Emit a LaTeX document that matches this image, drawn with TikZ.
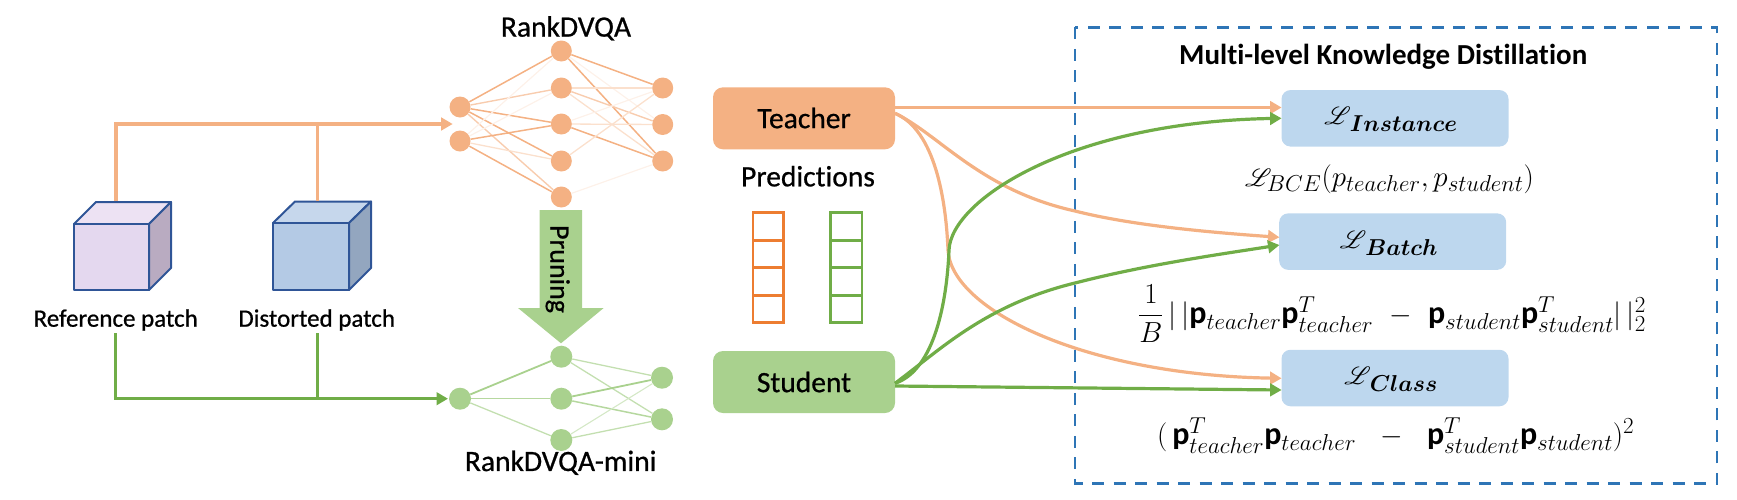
\documentclass[tikz,border=0pt]{standalone}
\usepackage{fix-cm}
\usepackage{amsmath}
\IfFileExists{mathrsfs.sty}{\usepackage{mathrsfs}}{\let\mathscr\mathcal}
\usepackage[no-math]{fontspec}
\setmainfont{Carlito}[Ligatures=NoCommon]
\newfontfamily\semi[FakeBold=0.7,Ligatures=NoCommon]{Carlito}
\DeclareMathSizes{29}{29}{23}{16}
\usetikzlibrary{arrows.meta,shapes.geometric,calc}
\definecolor{orL}{HTML}{F4B183}
\definecolor{orD}{HTML}{ED7D31}
\definecolor{grL}{HTML}{A9D18E}
\definecolor{grD}{HTML}{70AD47}
\definecolor{lossB}{HTML}{BDD7EE}
\definecolor{dashB}{HTML}{2E75B6}
\definecolor{cubeE}{HTML}{2F5597}
\newcommand{\fs}[1]{\fontsize{#1}{#1}\selectfont}
\newcommand{\pb}{\text{\fs{32}\bfseries p}}
\newcommand{\lossname}[1]{{\fs{33}$\mathscr{L}$}\kern-1pt\raisebox{-7pt}{\fs{23}$\boldsymbol{#1}$}}
\tikzset{
  onode/.style={circle,fill=orL,inner sep=0pt,minimum size=21pt},
  gnode/.style={circle,fill=grL,inner sep=0pt,minimum size=22pt},
  ostrong/.style={draw=orL,line width=1.5pt},
  omed/.style={draw=orL!65,line width=1.4pt},
  olight/.style={draw=orL!40,line width=1.3pt},
  ofaint/.style={draw=orL!18,line width=1.2pt},
  gstrong/.style={draw=grL,line width=1.8pt},
  gmed/.style={draw=grL!85,line width=1.5pt},
  glight/.style={draw=grL!70,line width=1.3pt},
  gfaint/.style={draw=grL!50,line width=1.1pt},
  oarrow/.style={draw=orL,line width=3.2pt,-{Triangle[length=11.5pt,width=12.5pt]}},
  garrow/.style={draw=grD,line width=3.2pt,-{Triangle[length=11.5pt,width=12.5pt]}},
  oline/.style={draw=orL,line width=3.2pt},
  gline/.style={draw=grD,line width=3.2pt},
  rolebox/.style={rounded corners=10pt,minimum width=182pt,minimum height=62pt,inner sep=0pt},
  rolelabel/.style={inner sep=0pt,font=\fs{29.5}\semi},
  lossbox/.style={rounded corners=9pt,fill=lossB,minimum width=227pt,minimum height=56.5pt,inner sep=0pt},
  label/.style={inner sep=0pt,font=\fs{25}\semi},
  cube/.style={draw=cubeE,line width=2pt,line join=round},
  pred/.style={line width=2.6pt},
}
\begin{document}
\begin{tikzpicture}[x=1pt,y=-1pt]
\useasboundingbox (0,0) rectangle (1737,499);
% dashed frame
\draw[dashB,line width=2.6pt,dash pattern=on 12pt off 9.5pt] (1075,27.3) rectangle (1717,483.3);
% orange net
\node[onode] (a) at (460,107) {};
\node[onode] (b) at (460,141) {};
\foreach \n/\y in {1/51,2/88,3/124,4/161,5/197} \node[onode] (m\n) at (561.3,\y) {};
\foreach \n/\y in {1/88,2/124.5,3/161} \node[onode] (r\n) at (662.7,\y) {};
\foreach \s/\t/\k in {a/m1/ostrong,a/m2/omed,a/m3/ostrong,a/m4/ostrong,a/m5/omed,
  b/m1/ofaint,b/m2/ofaint,b/m3/ostrong,b/m4/olight,b/m5/ostrong,
  m1/r1/ostrong,m1/r2/ofaint,m1/r3/ostrong,
  m2/r1/olight,m2/r2/omed,m2/r3/olight,
  m3/r1/ofaint,m3/r2/olight,m3/r3/ostrong,
  m4/r1/olight,m5/r3/ofaint}
  \draw[\k] (\s) -- (\t);
% green net
\node[gnode] (ga) at (460,398.7) {};
\foreach \n/\y in {1/356.7,2/398.7,3/440} \node[gnode] (gm\n) at (561.3,\y) {};
\foreach \n/\y in {1/377.7,2/419.3} \node[gnode] (gr\n) at (662,\y) {};
\foreach \s/\t/\k in {ga/gm1/gstrong,ga/gm2/gmed,ga/gm3/glight,
  gm1/gr1/glight,gm1/gr2/glight,gm2/gr1/gstrong,gm2/gr2/gmed,
  gm3/gr1/gfaint,gm3/gr2/glight}
  \draw[\k] (\s) -- (\t);
\node[rolelabel] (rankT) at (566,28.3) {RankDVQA};
\node[rolelabel] (rankM) at (560.7,462.7) {RankDVQA-mini};
% pruning arrow
\fill[grL] (539.7,210) -- (582,210) -- (582,308) -- (603.7,308) -- (561,343.3) -- (518,308) -- (539.7,308) -- cycle;
\node[inner sep=0pt,rotate=-90,font=\fs{28}\semi] (prune) at (557.7,269) {Pruning};
% cubes
\filldraw[fill={rgb,255:red,237;green,226;blue,243},cube] (74,224) -- (96,202) -- (171,202) -- (149,224) -- cycle;
\filldraw[fill={rgb,255:red,185;green,171;blue,193},cube] (149,224) -- (171,202) -- (171,268) -- (149,290) -- cycle;
\filldraw[fill={rgb,255:red,228;green,216;blue,239},cube] (74,224) rectangle (149,290);
\filldraw[fill={rgb,255:red,198;green,215;blue,236},cube] (273,223) -- (295,201.5) -- (371,201.5) -- (349,223) -- cycle;
\filldraw[fill={rgb,255:red,147;green,166;blue,191},cube] (349,223) -- (371,201.5) -- (371,268) -- (349,290) -- cycle;
\filldraw[fill={rgb,255:red,180;green,202;blue,229},cube] (273,223) rectangle (349,290);
\node[label] (refl) at (115.7,320) {Reference patch};
\node[label] (disl) at (316.7,320) {Distorted patch};
% input lines
\coordinate (refTop) at (116,201);
\coordinate (disTop) at (317.5,201);
\coordinate (disJoin) at (317.5,124);
\coordinate (netIn) at (452.7,124);
\coordinate (refBot) at (115.5,333);
\coordinate (disBot) at (317.5,333);
\coordinate (disJoinG) at (317.5,398.7);
\coordinate (gnetIn) at (448,398.7);
\draw[oline] (disTop) -- (disJoin);
\draw[oarrow] (refTop) |- (netIn);
\draw[gline] (disBot) -- (disJoinG);
\draw[garrow] (refBot) |- (gnetIn);
% predictions
\node[rolelabel] (predT) at (808,176.2) {Predictions};
\foreach \x/\w/\c in {753/30.6/orD,830.4/31.6/grD}{
  \foreach \y/\h in {212.3/240.3,240.3/267.7,267.7/295.3,295.3/322.7}
    \draw[\c,pred] (\x,\y) rectangle ({\x+\w},\h);
}
% role boxes
\node[rolebox,fill=orL] (teacher) at (804,118.3) {};
\node[rolebox,fill=grL] (student) at (804,382) {};
\node[rolelabel] (teacherT) at (804,118) {Teacher};
\node[rolelabel] (studentT) at (804,382) {Student};
% loss boxes
\node[lossbox] (inst) at (1395,118.3) {};
\node[lossbox] (batch) at (1392.7,241.6) {};
\node[lossbox] (class) at (1395,378) {};
\node[inner sep=0pt] (instT) at (1390.8,119) {\lossname{Instance}};
\node[inner sep=0pt] (batchT) at (1388.7,243) {\lossname{Batch}};
\node[inner sep=0pt] (classT) at (1390.8,379) {\lossname{Class}};
\node[inner sep=0pt,font=\fs{29}\bfseries,anchor=west] (title) at (1179,56.7) {Multi-level Knowledge Distillation};
% formulas
\node[inner sep=0pt,anchor=base west,font=\fs{29}] (f1) at (1245,186) {$\mathscr{L}_{BCE}(p_{teacher},p_{student})$};
\node[inner sep=0pt,anchor=base west,font=\fs{29}] (f2) at (1138,323) {$\dfrac{1}{B}\,|\,|\pb_{teacher}\pb_{teacher}^{T}\;\;{-}\;\;\pb_{student}\pb_{student}^{T}|\,|_2^2$};
\node[inner sep=0pt,anchor=base west,font=\fs{29}] (f3) at (1157,444) {$(\,\pb_{teacher}^{T}\pb_{teacher}\;\;\;{-}\;\;\;\pb_{student}^{T}\pb_{student})^2$};
% arrows
\coordinate (tOut) at (895,113.3);
\coordinate (tOut0) at (895,107.5);
\coordinate (sOut) at (895,383.3);
\coordinate (sOut0) at (895,386);
\coordinate (iA) at (1281.6,107.5);
\coordinate (iB) at (1281.6,118.3);
\coordinate (bA) at (1279.5,237.3);
\coordinate (bB) at (1279.5,245);
\coordinate (cA) at (1281.6,378.3);
\coordinate (cB) at (1281.6,390);
\draw[oarrow] (tOut0) -- (iA);
\draw[oarrow] (tOut) .. controls (935,130) and (946,200) .. (948,250) .. controls (951,310) and (1085,375) .. (cA);
\draw[oarrow] (tOut) .. controls (940,135) and (980,190) .. (1075,211) .. controls (1130,225) and (1205,232) .. (bA);
\draw[garrow] (sOut) .. controls (935,370) and (947,300) .. (949,250) .. controls (951,200) and (1070,122) .. (iB);
\draw[garrow] (sOut) .. controls (940,350) and (985,305) .. (1075,283) .. controls (1145,265) and (1215,255) .. (bB);
\draw[garrow] (sOut0) -- (cB);
\end{tikzpicture}
\end{document}
